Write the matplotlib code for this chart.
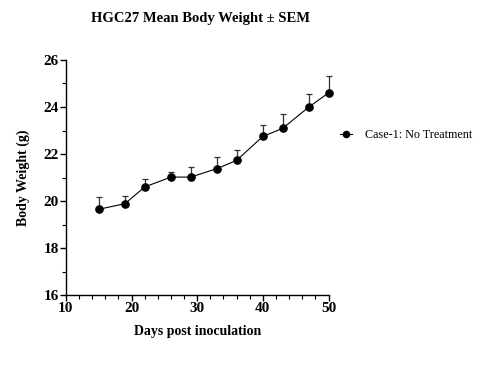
import matplotlib
matplotlib.use("Agg")
import matplotlib.pyplot as plt
from matplotlib.ticker import MultipleLocator

days = [15, 19, 22, 26, 29, 33, 36, 40, 43, 47, 50]
mean_weight = [19.65, 19.89, 20.60, 21.02, 21.02, 21.38, 21.73, 22.75, 23.09, 24.00, 24.60]
sem = [0.52, 0.31, 0.32, 0.20, 0.44, 0.51, 0.43, 0.50, 0.60, 0.54, 0.70]
series_label = "Case-1: No Treatment"
title = "HGC27 Mean Body Weight \u00b1 SEM"
xlabel = "Days post inoculation"
ylabel = "Body Weight (g)"

plt.rcParams['font.family'] = ['Liberation Serif', 'DejaVu Serif']

fig = plt.figure(figsize=(4.81, 3.68), dpi=100)
ax = fig.add_axes([0.137, 0.198, 0.546, 0.639])

ax.errorbar(days, mean_weight, yerr=[[0]*len(sem), sem], fmt='none',
            elinewidth=0.9, capsize=2.2, capthick=0.9, ecolor='#333333', clip_on=False)
ax.plot(days, mean_weight, 'o-', color='black', markersize=5.2, linewidth=0.8,
        label=series_label, clip_on=False, zorder=3)

ax.set_xlim(10, 50)
ax.set_ylim(16, 26)
ax.xaxis.set_major_locator(MultipleLocator(10))
ax.xaxis.set_minor_locator(MultipleLocator(2))
ax.yaxis.set_major_locator(MultipleLocator(2))
ax.yaxis.set_minor_locator(MultipleLocator(1))
ax.spines['top'].set_visible(False)
ax.spines['right'].set_visible(False)
for s in ('left', 'bottom'):
    ax.spines[s].set_linewidth(1.0)
ax.tick_params(which='major', length=4, width=1.0, labelsize=11, pad=1)
ax.tick_params(which='minor', length=3, width=0.8)
for lbl in ax.get_xticklabels() + ax.get_yticklabels():
    lbl.set_fontweight('bold')

ax.set_xlabel(xlabel, fontsize=10, fontweight='bold', labelpad=7)
ax.set_ylabel(ylabel, fontsize=10, fontweight='bold', labelpad=10)
fig.text(0.416, 0.951, title, fontsize=10.5, fontweight='bold', ha='center', va='center')

leg = ax.legend(loc='center left', bbox_to_anchor=(1.045, 0.681), frameon=False,
                fontsize=8.7, handlelength=1.0, handletextpad=1.05, markerscale=0.85,
                borderpad=0, borderaxespad=0)

fig.savefig("out.png", dpi=100)
